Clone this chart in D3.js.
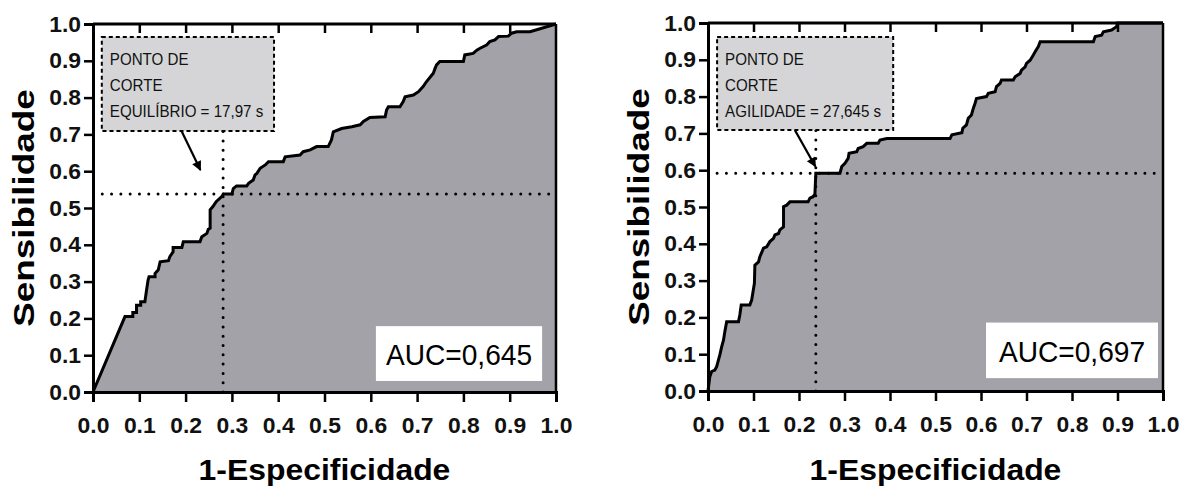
<!DOCTYPE html>
<html>
<head>
<meta charset="utf-8">
<script src="https://cdn.jsdelivr.net/npm/d3@7"></script>
<style>
body { margin: 0; background: #fff; }
text { font-family: "Liberation Sans", Arial, sans-serif; }
</style>
</head>
<body>
<div id="chart"></div>
<script>
// Dimensions
const width = 1179;
const height = 486;

// Ticks (both axes)
const tickValues = [0, 0.1, 0.2, 0.3, 0.4, 0.5, 0.6, 0.7, 0.8, 0.9, 1.0];

// ROC curve, equilibrio: [1-especificidade, sensibilidade]
const rocEquilibrio = [
  [0, 0], [0.069, 0.205], [0.086, 0.205], [0.086, 0.216], [0.094, 0.216], [0.094, 0.236],
  [0.103, 0.236], [0.103, 0.245], [0.112, 0.245], [0.116, 0.28], [0.119, 0.304], [0.121, 0.313],
  [0.134, 0.313], [0.134, 0.322], [0.141, 0.332], [0.145, 0.354], [0.163, 0.357], [0.166, 0.368],
  [0.173, 0.381], [0.173, 0.393], [0.192, 0.393], [0.195, 0.408], [0.231, 0.408], [0.235, 0.422],
  [0.246, 0.431], [0.249, 0.442], [0.253, 0.445], [0.253, 0.495], [0.259, 0.504], [0.266, 0.517],
  [0.271, 0.523], [0.278, 0.531], [0.282, 0.538], [0.300, 0.538], [0.303, 0.553], [0.310, 0.560],
  [0.332, 0.560], [0.336, 0.567], [0.346, 0.576], [0.350, 0.590], [0.354, 0.594], [0.361, 0.608],
  [0.372, 0.617], [0.379, 0.626], [0.411, 0.626], [0.415, 0.639], [0.447, 0.644], [0.454, 0.653],
  [0.469, 0.658], [0.483, 0.667], [0.508, 0.667], [0.515, 0.685], [0.519, 0.707], [0.537, 0.716],
  [0.559, 0.721], [0.577, 0.726], [0.584, 0.735], [0.598, 0.746], [0.631, 0.748], [0.634, 0.766],
  [0.638, 0.775], [0.663, 0.775], [0.670, 0.789], [0.674, 0.802], [0.692, 0.807], [0.703, 0.816],
  [0.713, 0.830], [0.720, 0.843], [0.735, 0.866], [0.739, 0.880], [0.742, 0.889], [0.749, 0.898],
  [0.800, 0.898], [0.803, 0.916], [0.821, 0.920], [0.829, 0.929], [0.836, 0.934], [0.850, 0.943],
  [0.857, 0.952], [0.868, 0.957], [0.876, 0.966], [0.897, 0.967], [0.904, 0.975], [0.915, 0.979],
  [0.944, 0.979], [1, 1]
];

// ROC curve, agilidade
const rocAgilidade = [
  [0, 0], [0.004, 0.039], [0.008, 0.053], [0.015, 0.057], [0.019, 0.066], [0.022, 0.080],
  [0.026, 0.098], [0.030, 0.120], [0.034, 0.138], [0.037, 0.161], [0.041, 0.188], [0.067, 0.188],
  [0.070, 0.207], [0.073, 0.234], [0.092, 0.234], [0.096, 0.247], [0.102, 0.293], [0.103, 0.342],
  [0.111, 0.351], [0.114, 0.365], [0.122, 0.388], [0.129, 0.392], [0.136, 0.406], [0.144, 0.415],
  [0.147, 0.424], [0.155, 0.428], [0.158, 0.438], [0.166, 0.446], [0.166, 0.501], [0.173, 0.505],
  [0.180, 0.514], [0.220, 0.514], [0.224, 0.524], [0.231, 0.528], [0.235, 0.535], [0.237, 0.592],
  [0.290, 0.592], [0.294, 0.610], [0.301, 0.619], [0.308, 0.632], [0.310, 0.646], [0.327, 0.650],
  [0.330, 0.659], [0.341, 0.664], [0.349, 0.673], [0.374, 0.673], [0.378, 0.682], [0.393, 0.686],
  [0.532, 0.686], [0.536, 0.696], [0.558, 0.702], [0.560, 0.714], [0.568, 0.723], [0.572, 0.741],
  [0.579, 0.750], [0.583, 0.768], [0.587, 0.782], [0.590, 0.795], [0.612, 0.800], [0.616, 0.809],
  [0.631, 0.813], [0.634, 0.827], [0.642, 0.836], [0.645, 0.845], [0.671, 0.845], [0.675, 0.854],
  [0.686, 0.863], [0.689, 0.872], [0.697, 0.881], [0.700, 0.890], [0.708, 0.899], [0.715, 0.913],
  [0.719, 0.922], [0.726, 0.936], [0.730, 0.949], [0.847, 0.949], [0.851, 0.963], [0.865, 0.967],
  [0.869, 0.976], [0.887, 0.981], [0.898, 0.990], [0.900, 1], [1, 1]
];

// Pontos de corte
const cutFpr = [0.281, 0.237];
const cutTpr = [0.538, 0.592];

// Textos
const aucLabels = ["AUC=0,645", "AUC=0,697"];
const noteLines = [
  ["PONTO DE", "CORTE", "EQUILÍBRIO = 17,97 s"],
  ["PONTO DE", "CORTE", "AGILIDADE = 27,645 s"]
];
const xTitle = "1-Especificidade";
const yTitle = "Sensibilidade";

// Layout of each panel (pixels) + annotation placement (data units)
const panels = [
  { roc: rocEquilibrio, left: 93, right: 556, top: 24, bottom: 392,
    box: [0.019, 0.391, 0.965, 0.709], arrow: [0.192, 0.707, 0.232, 0.603],
    auc: [0.611, 0.970, 0.179, 0.030] },
  { roc: rocAgilidade, left: 708, right: 1163, top: 23, bottom: 391,
    box: [0.020, 0.407, 0.962, 0.709], arrow: [0.191, 0.709, 0.236, 0.610],
    auc: [0.611, 0.989, 0.186, 0.035] }
];

// squeeze / stretch text horizontally to a factor of its natural width
function scaleText(sel, factor) {
  sel.each(function() {
    const n = this.getComputedTextLength();
    d3.select(this)
      .attr("textLength", n * factor)
      .attr("lengthAdjust", "spacingAndGlyphs");
  });
}

const svg = d3.select("#chart")
  .append("svg")
  .attr("width", width)
  .attr("height", height);

const defs = svg.append("defs");
defs.append("marker")
  .attr("id", "arrowhead")
  .attr("viewBox", "0 0 10 10")
  .attr("refX", 9)
  .attr("refY", 5)
  .attr("markerWidth", 5.5)
  .attr("markerHeight", 4.4)
  .attr("markerUnits", "strokeWidth")
  .attr("orient", "auto")
  .append("path")
  .attr("d", "M0,0 L10,5 L0,10 Z")
  .attr("fill", "#000");

panels.forEach((p, i) => {
  const x = d3.scaleLinear().domain([0, 1]).range([p.left, p.right]);
  const y = d3.scaleLinear().domain([0, 1]).range([p.bottom, p.top]);
  const g = svg.append("g");

  // area under curve
  g.append("path")
    .datum(p.roc)
    .attr("d", d3.area().x(d => x(d[0])).y0(y(0)).y1(d => y(d[1])))
    .attr("fill", "#a3a2a8");

  // ROC line
  g.append("path")
    .datum(p.roc)
    .attr("d", d3.line().x(d => x(d[0])).y(d => y(d[1])))
    .attr("fill", "none")
    .attr("stroke", "#000")
    .attr("stroke-width", 3)
    .attr("stroke-linejoin", "miter");

  // dotted cut-off lines
  const dotted = sel => sel
    .attr("stroke", "#000")
    .attr("stroke-width", 3)
    .attr("stroke-linecap", "round")
    .attr("stroke-dasharray", "0,9.3");
  g.append("line")
    .attr("x1", x(cutFpr[i])).attr("x2", x(cutFpr[i]))
    .attr("y1", y(0)).attr("y2", y(0.975))
    .call(dotted);
  g.append("line")
    .attr("x1", x(0.02)).attr("x2", x(1))
    .attr("y1", y(cutTpr[i])).attr("y2", y(cutTpr[i]))
    .call(dotted);

  // annotation box
  const [bx0, bx1, by0, by1] = p.box;
  g.append("rect")
    .attr("x", x(bx0)).attr("y", y(by0))
    .attr("width", x(bx1) - x(bx0)).attr("height", y(by1) - y(by0))
    .attr("fill", "#d5d5d7")
    .attr("stroke", "#000")
    .attr("stroke-width", 2)
    .attr("stroke-dasharray", "4,3");
  noteLines[i].forEach((t, k) => {
    g.append("text")
      .attr("x", x(bx0) + 8)
      .attr("y", y(by0) + 28 + k * 26)
      .attr("font-size", 17)
      .attr("fill", "#111")
      .text(t)
      .call(scaleText, 0.89);
  });

  // arrow
  const [ax0, ay0, ax1, ay1] = p.arrow;
  g.append("line")
    .attr("x1", x(ax0)).attr("y1", y(ay0))
    .attr("x2", x(ax1)).attr("y2", y(ay1))
    .attr("stroke", "#000")
    .attr("stroke-width", 2.2)
    .attr("marker-end", "url(#arrowhead)");

  // AUC label
  const [ux0, ux1, uy0, uy1] = p.auc;
  g.append("rect")
    .attr("x", x(ux0)).attr("y", y(uy0))
    .attr("width", x(ux1) - x(ux0)).attr("height", y(uy1) - y(uy0))
    .attr("fill", "#fff");
  g.append("text")
    .attr("x", (x(ux0) + x(ux1)) / 2)
    .attr("y", y(uy1) - 16)
    .attr("text-anchor", "middle")
    .attr("font-size", 29)
    .text(aucLabels[i])
    .call(scaleText, 0.97);

  // axes
  const fmt = d3.format(".1f");
  const xAxis = g.append("g")
    .attr("transform", `translate(0,${p.bottom})`)
    .call(d3.axisBottom(x).tickValues(tickValues).tickFormat(fmt).tickSize(10).tickPadding(15));
  const yAxis = g.append("g")
    .attr("transform", `translate(${p.left},0)`)
    .call(d3.axisLeft(y).tickValues(tickValues).tickFormat(fmt).tickSize(9).tickPadding(3));
  const topAxis = g.append("g")
    .attr("transform", `translate(0,${p.top})`)
    .call(d3.axisBottom(x).tickValues(tickValues.slice(1, -1)).tickFormat("").tickSize(9));
  [xAxis, yAxis, topAxis].forEach(a => {
    a.select(".domain").attr("stroke", "#000").attr("stroke-width", 3);
    a.selectAll(".tick line").attr("stroke", "#000").attr("stroke-width", 2.5);
    a.selectAll(".tick text")
      .attr("font-family", "'Liberation Sans', Arial, sans-serif")
      .attr("font-size", 22)
      .attr("font-weight", "bold")
      .attr("fill", "#111")
      .call(scaleText, 1.04);
  });
  topAxis.select(".domain").attr("d", `M${p.left},0H${p.right}`);

  // right border
  g.append("line")
    .attr("x1", p.right).attr("x2", p.right)
    .attr("y1", p.top).attr("y2", p.bottom)
    .attr("stroke", "#000")
    .attr("stroke-width", 2.5);

  // axis titles
  g.append("text")
    .attr("x", (p.left + p.right) / 2)
    .attr("y", 480)
    .attr("text-anchor", "middle")
    .attr("font-size", 29)
    .attr("font-weight", "bold")
    .text(xTitle)
    .call(scaleText, 1.1);
  g.append("text")
    .attr("transform", `translate(${p.left - 59},${(p.top + p.bottom) / 2}) rotate(-90)`)
    .attr("text-anchor", "middle")
    .attr("font-size", 29)
    .attr("font-weight", "bold")
    .text(yTitle)
    .call(scaleText, 1.27);
});
</script>
</body>
</html>
